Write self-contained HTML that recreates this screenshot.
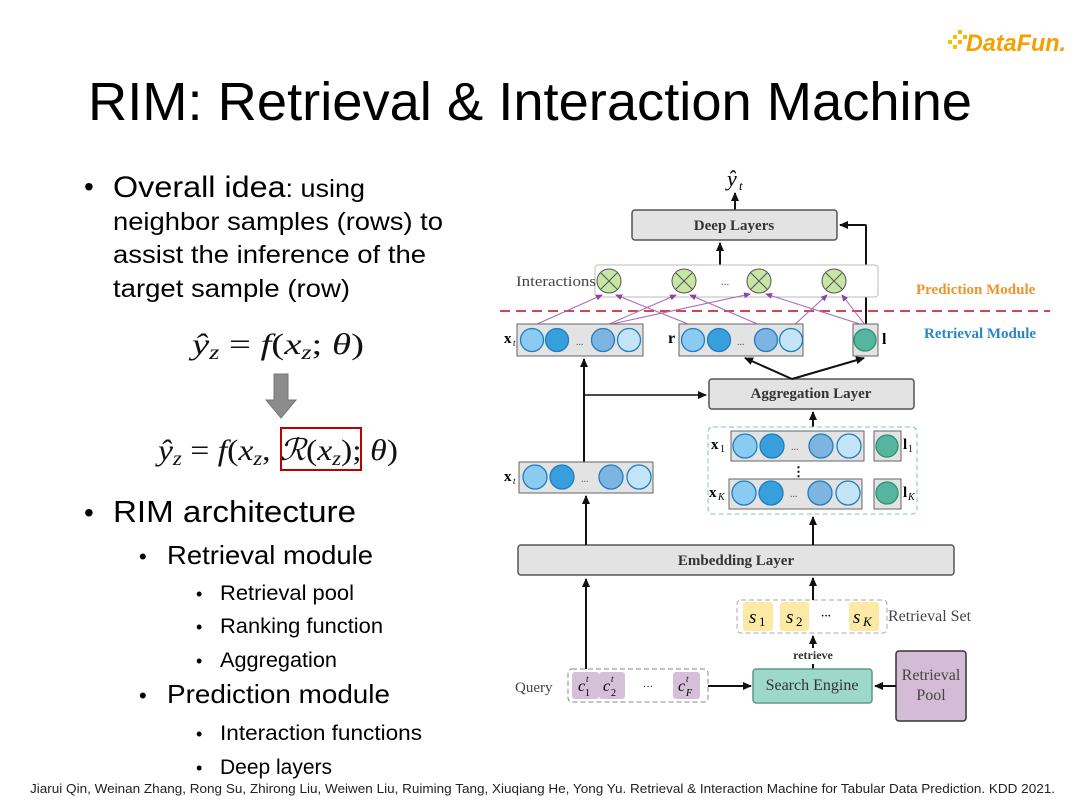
<!DOCTYPE html>
<html><head><meta charset="utf-8"><style>
html,body{margin:0;padding:0;background:#fff;width:1080px;height:810px;overflow:hidden}
svg{display:block}
.t{font-family:"Liberation Sans",sans-serif;fill:#000}
.s{font-family:"Liberation Serif",serif}
</style></head><body>
<svg width="1080" height="810" viewBox="0 0 1080 810" xmlns="http://www.w3.org/2000/svg">
<defs>
<marker id="a" markerWidth="10" markerHeight="10" refX="8" refY="5" orient="auto" markerUnits="userSpaceOnUse"><path d="M0,1 L9,5 L0,9 z" fill="#111"/></marker>
<marker id="p" markerWidth="8" markerHeight="8" refX="6" refY="4" orient="auto" markerUnits="userSpaceOnUse"><path d="M0,1 L7,4 L0,7 z" fill="#8e44ad"/></marker>
</defs>
<!-- logo -->
<g>
<rect x="948" y="40" width="4" height="4" fill="#f7c200"/><rect x="953" y="35" width="4" height="4" fill="#f7c200"/><rect x="953" y="45" width="4" height="4" fill="#f7c200"/><rect x="958" y="40" width="4" height="4" fill="#f7b500"/><rect x="958" y="30" width="4" height="4" fill="#f7b500"/><rect x="963" y="35" width="4" height="4" fill="#f7b500"/>
<text x="966" y="51" font-family="Liberation Sans,sans-serif" font-weight="bold" font-style="italic" font-size="24" fill="#f5a000" textLength="100" lengthAdjust="spacingAndGlyphs">DataFun.</text>
</g>
<!-- title -->
<text class="t" x="88" y="120" font-size="54" fill="#1a1a1a" textLength="884" lengthAdjust="spacingAndGlyphs">RIM: Retrieval &amp; Interaction Machine</text>
<!-- bullets -->
<g class="t">
<text x="84" y="196" font-size="28">•</text>
<text x="113" y="197" font-size="30" textLength="252" lengthAdjust="spacingAndGlyphs">Overall idea<tspan font-size="25">: using</tspan></text>
<text x="113" y="230" font-size="25" textLength="330" lengthAdjust="spacingAndGlyphs">neighbor samples (rows) to</text>
<text x="113" y="263" font-size="25" textLength="313" lengthAdjust="spacingAndGlyphs">assist the inference of the</text>
<text x="113" y="297" font-size="25" textLength="237" lengthAdjust="spacingAndGlyphs">target sample (row)</text>
<text x="84" y="522" font-size="28">•</text>
<text x="113" y="522" font-size="31" textLength="243" lengthAdjust="spacingAndGlyphs">RIM architecture</text>
<text x="139" y="564" font-size="22">•</text>
<text x="167" y="564" font-size="26" textLength="206" lengthAdjust="spacingAndGlyphs">Retrieval module</text>
<text x="196" y="600" font-size="18">•</text>
<text x="220" y="600" font-size="21" textLength="134" lengthAdjust="spacingAndGlyphs">Retrieval pool</text>
<text x="196" y="633" font-size="18">•</text>
<text x="220" y="633" font-size="21" textLength="163" lengthAdjust="spacingAndGlyphs">Ranking function</text>
<text x="196" y="667" font-size="18">•</text>
<text x="220" y="667" font-size="21" textLength="117" lengthAdjust="spacingAndGlyphs">Aggregation</text>
<text x="139" y="703" font-size="22">•</text>
<text x="167" y="703" font-size="26" textLength="223" lengthAdjust="spacingAndGlyphs">Prediction module</text>
<text x="196" y="740" font-size="18">•</text>
<text x="220" y="740" font-size="21" textLength="202" lengthAdjust="spacingAndGlyphs">Interaction functions</text>
<text x="196" y="774" font-size="18">•</text>
<text x="220" y="774" font-size="21" textLength="112" lengthAdjust="spacingAndGlyphs">Deep layers</text>
<text x="30" y="793" font-size="13" fill="#222" textLength="1025" lengthAdjust="spacingAndGlyphs">Jiarui Qin, Weinan Zhang, Rong Su, Zhirong Liu, Weiwen Liu, Ruiming Tang, Xiuqiang He, Yong Yu. Retrieval &amp; Interaction Machine for Tabular Data Prediction. KDD 2021.</text>
</g>
<!-- formulas -->
<g class="s" font-style="italic" font-size="30" fill="#111">
<text x="192" y="354" textLength="172" lengthAdjust="spacingAndGlyphs">ŷ<tspan font-size="20" dy="5">z</tspan><tspan dy="-5" font-style="normal"> = </tspan>f<tspan font-style="normal">(</tspan>x<tspan font-size="20" dy="5">z</tspan><tspan dy="-5" font-style="normal">;</tspan> θ<tspan font-style="normal">)</tspan></text>
<text x="158" y="460" textLength="240" lengthAdjust="spacingAndGlyphs">ŷ<tspan font-size="20" dy="5">z</tspan><tspan dy="-5" font-style="normal"> = </tspan>f<tspan font-style="normal">(</tspan>x<tspan font-size="20" dy="5">z</tspan><tspan dy="-5" font-style="normal">, </tspan>ℛ<tspan font-style="normal">(</tspan>x<tspan font-size="20" dy="5">z</tspan><tspan dy="-5" font-style="normal">);</tspan> θ<tspan font-style="normal">)</tspan></text>
</g>
<rect x="281" y="428" width="80" height="42" fill="none" stroke="#c00000" stroke-width="2"/>
<path d="M274,374 h14 v26 h8 l-15,18 l-15,-18 h8 z" fill="#8c8c8c" stroke="#777" stroke-width="1"/>

<!-- DIAGRAM -->
<g font-family="Liberation Serif,serif">
<text x="727" y="186" font-size="22" font-style="italic">ŷ</text><text x="739" y="190" font-size="13" font-style="italic">t</text>
<line x1="735" y1="210" x2="735" y2="193" stroke="#111" stroke-width="2" marker-end="url(#a)"/>
<rect x="632" y="210" width="205" height="30" rx="3" fill="#e3e3e3" stroke="#555" stroke-width="1.5"/>
<text x="734" y="230" font-size="15" font-weight="bold" text-anchor="middle" fill="#333">Deep Layers</text>
<line x1="720" y1="265" x2="720" y2="243" stroke="#111" stroke-width="2" marker-end="url(#a)"/>
<path d="M866,324 V226 Q866,225 865,225 H840" fill="none" stroke="#111" stroke-width="2" marker-end="url(#a)"/>
<rect x="595" y="265" width="283" height="32" rx="3" fill="#fff" stroke="#bbb"/>
<text x="516" y="286" font-size="15" fill="#444" textLength="80" lengthAdjust="spacingAndGlyphs">Interactions</text>
<g fill="#c6e6a6" stroke="#555" stroke-width="1">
<circle cx="609" cy="281" r="12"/><circle cx="684" cy="281" r="12"/><circle cx="759" cy="281" r="12"/><circle cx="834" cy="281" r="12"/>
</g>
<g stroke="#555" stroke-width="1">
<path d="M601,273 L617,289 M617,273 L601,289"/><path d="M676,273 L692,289 M692,273 L676,289"/><path d="M751,273 L767,289 M767,273 L751,289"/><path d="M826,273 L842,289 M842,273 L826,289"/>
</g>
<text x="721" y="285" font-size="11" fill="#555">...</text>
<text x="916" y="294" font-size="15" font-weight="bold" fill="#f0932b">Prediction Module</text>
<line x1="500" y1="311" x2="1050" y2="311" stroke="#d9434e" stroke-width="2" stroke-dasharray="10,6"/>
<text x="924" y="338" font-size="15" font-weight="bold" fill="#2a86c8">Retrieval Module</text>
<g stroke="#a768b5" stroke-width="1" marker-end="url(#p)">
<line x1="535" y1="325" x2="602" y2="295"/>
<line x1="607" y1="325" x2="676" y2="295"/>
<line x1="607" y1="325" x2="750" y2="294"/>
<line x1="693" y1="326" x2="616" y2="295"/>
<line x1="762" y1="326" x2="690" y2="295"/>
<line x1="793" y1="326" x2="827" y2="295"/>
<line x1="866" y1="326" x2="766" y2="294"/>
<line x1="866" y1="326" x2="842" y2="295"/>
</g>
<!-- top row -->
<rect x="517" y="324" width="126" height="32" fill="#e3e3e3" stroke="#666"/>
<text x="504" y="343" font-size="15" font-weight="bold">x</text><text x="513" y="346" font-size="9" font-style="italic">t</text>
<rect x="679" y="324" width="124" height="32" fill="#e3e3e3" stroke="#666"/>
<text x="668" y="343" font-size="16" font-weight="bold">r</text>
<rect x="853" y="324" width="25" height="32" fill="#e3e3e3" stroke="#666"/>
<text x="882" y="344" font-size="16" font-weight="bold">l</text>
<g stroke="#1f7dc1" stroke-width="1.3">
<circle cx="532" cy="340" r="11.5" fill="#8ccbf1"/><circle cx="557" cy="340" r="11.5" fill="#379fdc"/><circle cx="603" cy="340" r="11.5" fill="#7eb5e0"/><circle cx="629" cy="340" r="11.5" fill="#c4e5f8"/>
<circle cx="693" cy="340" r="11.5" fill="#8ccbf1"/><circle cx="719" cy="340" r="11.5" fill="#379fdc"/><circle cx="766" cy="340" r="11.5" fill="#7eb5e0"/><circle cx="791" cy="340" r="11.5" fill="#c4e5f8"/>
</g>
<circle cx="865" cy="340" r="11" fill="#55b59f" stroke="#2e8f73" stroke-width="1.3"/>
<text x="576" y="345" font-size="10" fill="#555">...</text><text x="737" y="345" font-size="10" fill="#555">...</text>
<!-- aggregation -->
<rect x="709" y="379" width="205" height="30" rx="3" fill="#e3e3e3" stroke="#555" stroke-width="1.5"/>
<text x="811" y="398" font-size="15" font-weight="bold" text-anchor="middle" fill="#333">Aggregation Layer</text>
<line x1="792" y1="379" x2="745" y2="358" stroke="#111" stroke-width="2" marker-end="url(#a)"/>
<line x1="792" y1="379" x2="864" y2="358" stroke="#111" stroke-width="2" marker-end="url(#a)"/>
<line x1="584" y1="462" x2="584" y2="359" stroke="#111" stroke-width="2" marker-end="url(#a)"/>
<line x1="584" y1="395" x2="706" y2="395" stroke="#111" stroke-width="1.5" marker-end="url(#a)"/>
<line x1="813" y1="427" x2="813" y2="412" stroke="#111" stroke-width="2" marker-end="url(#a)"/>
<!-- bottom xt -->
<rect x="519" y="462" width="134" height="31" fill="#e3e3e3" stroke="#666"/>
<text x="504" y="481" font-size="15" font-weight="bold">x</text><text x="513" y="484" font-size="9" font-style="italic">t</text>
<g stroke="#1f7dc1" stroke-width="1.3">
<circle cx="535" cy="477" r="12" fill="#8ccbf1"/><circle cx="562" cy="477" r="12" fill="#379fdc"/><circle cx="611" cy="477" r="12" fill="#7eb5e0"/><circle cx="639" cy="477" r="12" fill="#c4e5f8"/>
</g>
<text x="581" y="482" font-size="10" fill="#555">...</text>
<!-- dashed group -->
<rect x="708" y="427" width="209" height="87" rx="5" fill="none" stroke="#7fb8e0" stroke-dasharray="5,3"/>
<rect x="731" y="431" width="133" height="30" fill="#e3e3e3" stroke="#666"/>
<rect x="874" y="431" width="27" height="30" fill="#e3e3e3" stroke="#666"/>
<rect x="729" y="479" width="133" height="30" fill="#e3e3e3" stroke="#666"/>
<rect x="874" y="479" width="27" height="30" fill="#e3e3e3" stroke="#666"/>
<g stroke="#1f7dc1" stroke-width="1.3">
<circle cx="745" cy="446" r="12" fill="#8ccbf1"/><circle cx="772" cy="446" r="12" fill="#379fdc"/><circle cx="821" cy="446" r="12" fill="#7eb5e0"/><circle cx="849" cy="446" r="12" fill="#c4e5f8"/>
<circle cx="744" cy="493" r="12" fill="#8ccbf1"/><circle cx="771" cy="493" r="12" fill="#379fdc"/><circle cx="820" cy="493" r="12" fill="#7eb5e0"/><circle cx="848" cy="493" r="12" fill="#c4e5f8"/>
</g>
<circle cx="887" cy="446" r="11" fill="#55b59f" stroke="#2e8f73" stroke-width="1.3"/>
<circle cx="887" cy="493" r="11" fill="#55b59f" stroke="#2e8f73" stroke-width="1.3"/>
<text x="791" y="450" font-size="10" fill="#555">...</text><text x="790" y="497" font-size="10" fill="#555">...</text>
<text x="792" y="476" font-size="13" font-weight="bold">⋮</text>
<text x="711" y="449" font-size="15" font-weight="bold">x</text><text x="720" y="452" font-size="10">1</text>
<text x="709" y="497" font-size="15" font-weight="bold">x</text><text x="718" y="500" font-size="10" font-style="italic">K</text>
<text x="903" y="449" font-size="15" font-weight="bold">l</text><text x="908" y="452" font-size="10">1</text>
<text x="903" y="497" font-size="15" font-weight="bold">l</text><text x="908" y="500" font-size="10" font-style="italic">K</text>
<!-- embedding -->
<rect x="518" y="545" width="436" height="30" rx="3" fill="#e3e3e3" stroke="#555" stroke-width="1.5"/>
<text x="736" y="565" font-size="15" font-weight="bold" text-anchor="middle" fill="#333">Embedding Layer</text>
<line x1="586" y1="545" x2="586" y2="496" stroke="#111" stroke-width="2" marker-end="url(#a)"/>
<line x1="813" y1="545" x2="813" y2="517" stroke="#111" stroke-width="2" marker-end="url(#a)"/>
<!-- retrieval set -->
<rect x="737" y="600" width="150" height="33" rx="4" fill="none" stroke="#aaa" stroke-dasharray="5,3"/>
<rect x="743" y="602" width="30" height="29" rx="3" fill="#fde9a6"/>
<rect x="780" y="602" width="29" height="29" rx="3" fill="#fde9a6"/>
<rect x="849" y="602" width="30" height="29" rx="3" fill="#fde9a6"/>
<text x="749" y="623" font-size="19" font-style="italic">s</text><text x="759" y="626" font-size="13">1</text>
<text x="786" y="623" font-size="19" font-style="italic">s</text><text x="796" y="626" font-size="13">2</text>
<text x="821" y="619" font-size="10" font-weight="bold">···</text>
<text x="853" y="623" font-size="19" font-style="italic">s</text><text x="863" y="626" font-size="13" font-style="italic">K</text>
<text x="888" y="621" font-size="16" fill="#444">Retrieval Set</text>
<line x1="813" y1="600" x2="813" y2="578" stroke="#111" stroke-width="2" marker-end="url(#a)"/>
<text x="813" y="659" font-size="12" font-weight="bold" text-anchor="middle" fill="#333">retrieve</text>
<line x1="813" y1="648" x2="813" y2="636" stroke="#111" stroke-width="2" marker-end="url(#a)"/>
<line x1="813" y1="669" x2="813" y2="664" stroke="#111" stroke-width="2"/>
<!-- query -->
<text x="515" y="692" font-size="15" fill="#444">Query</text>
<rect x="568" y="669" width="140" height="33" rx="4" fill="none" stroke="#888" stroke-dasharray="5,3"/>
<rect x="572" y="672" width="27" height="27" rx="3" fill="#d6bfd8"/>
<rect x="599" y="672" width="26" height="27" rx="3" fill="#d6bfd8"/>
<rect x="673" y="672" width="27" height="27" rx="3" fill="#d6bfd8"/>
<text x="578" y="691" font-size="16" font-style="italic">c</text><text x="586" y="682" font-size="9" font-style="italic">t</text><text x="585" y="696" font-size="10">1</text>
<text x="603" y="691" font-size="16" font-style="italic">c</text><text x="611" y="682" font-size="9" font-style="italic">t</text><text x="611" y="696" font-size="10">2</text>
<text x="643" y="690" font-size="10">···</text>
<text x="678" y="691" font-size="16" font-style="italic">c</text><text x="686" y="682" font-size="9" font-style="italic">t</text><text x="686" y="696" font-size="10" font-style="italic">F</text>
<line x1="586" y1="669" x2="586" y2="579" stroke="#111" stroke-width="2" marker-end="url(#a)"/>
<line x1="708" y1="686" x2="751" y2="686" stroke="#111" stroke-width="2" marker-end="url(#a)"/>
<rect x="753" y="669" width="119" height="34" rx="3" fill="#9ed8cb" stroke="#5a9a8a" stroke-width="1.5"/>
<text x="812" y="690" font-size="16" text-anchor="middle" fill="#333">Search Engine</text>
<rect x="896" y="651" width="70" height="70" rx="3" fill="#d5bcd6" stroke="#333" stroke-width="1.5"/>
<text x="931" y="680" font-size="16" text-anchor="middle" fill="#444">Retrieval</text>
<text x="931" y="700" font-size="16" text-anchor="middle" fill="#444">Pool</text>
<line x1="896" y1="686" x2="875" y2="686" stroke="#111" stroke-width="2" marker-end="url(#a)"/>
</g>
</svg>
</body></html>
